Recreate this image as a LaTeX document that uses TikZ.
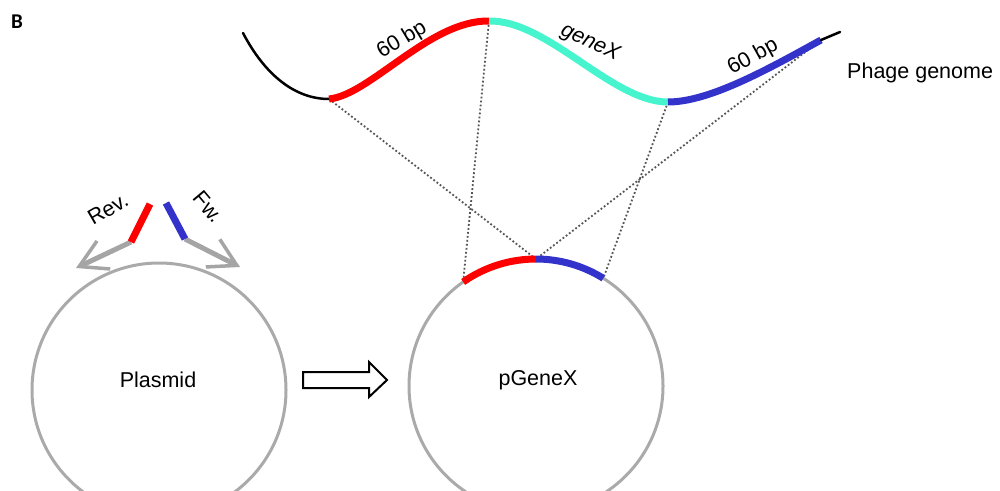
\documentclass[tikz,border=0pt]{standalone}
\usepackage{fontspec}
\setmainfont{Liberation Sans}
\newfontfamily\panelfont{Carlito}
\usetikzlibrary{arrows.meta}
\definecolor{homred}{RGB}{255,0,0}
\definecolor{genecyan}{RGB}{70,245,205}
\definecolor{homblue}{RGB}{51,51,204}
\definecolor{ringgray}{RGB}{170,170,170}
\definecolor{armgray}{RGB}{165,165,165}
\definecolor{linkgray}{RGB}{85,85,85}
\begin{document}
\begin{tikzpicture}[x=1pt,y=-1pt,
  ring/.style={draw=ringgray, line width=3pt},
  genome/.style={line width=2.5pt},
  segment/.style={line width=7pt},
  link/.style={draw=linkgray, line width=1.8pt, dash pattern=on 1.8pt off 2.2pt},
  primer/.style={line width=7pt},
  primerarm/.style={draw=armgray, line width=5pt,
    -{Straight Barb[length=27pt,width=31pt,line width=3.5pt]}},
  lbl/.style={font=\fontsize{21.5}{24}\selectfont, inner sep=0pt}]
\useasboundingbox (0,0) rectangle (1000,490);
\clip (0,0) rectangle (1000,490);

% panel letter
\node[inner sep=0pt, font=\panelfont\bfseries\fontsize{21}{24}\selectfont] (panel) at (17,22) {B};

% points along the phage genome
\coordinate (g0) at (243,33);
\coordinate (g1) at (329,99);
\coordinate (g2) at (489,21);
\coordinate (g3) at (668,102);
\coordinate (g4) at (821,40);
\coordinate (g5) at (840,32);

% plasmid centres and insert points on pGeneX
\coordinate (pc) at (159,390);
\coordinate (gc) at (536,386);
\path (gc) ++(125:127pt) coordinate (insL);
\path (gc) ++(90:127pt) coordinate (insM);
\path (gc) ++(58:127pt) coordinate (insR);

% homology links
\draw[link] (g1) -- (insM);
\draw[link] (g2) -- (insL);
\draw[link] (g3) -- (insR);
\draw[link] (g4) -- (insM);

% phage genome
\draw[genome, line cap=round] (g0) .. controls (265,75) and (295,99) .. (g1);
\draw[segment, homred] (g1) .. controls (370,95) and (430,20) .. (g2);
\draw[segment, genecyan] (g2) .. controls (548,20) and (612,102) .. (g3);
\draw[segment, homblue] (g3) .. controls (710,102) and (770,68) .. (g4);
\draw[genome, line cap=round] (g4) -- (g5);

\node[lbl, rotate=31] (lblL) at (402,40) {60 bp};
\node[lbl, rotate=-25, font=\fontsize{21.5}{24}\selectfont\itshape] (lblG) at (590,43) {geneX};
\node[lbl, rotate=29] (lblR) at (753,57) {60 bp};
\node[lbl, anchor=west] (phage) at (847,73) {Phage genome};

% plasmids
\draw[ring] (pc) circle[radius=127pt];
\node[lbl] (plasmid) at (158,380) {Plasmid};
\draw[ring] (gc) circle[radius=127pt];
\node[lbl] (pgenex) at (538,380) {pGeneX};
\draw[segment, homred] (insL) arc[start angle=125, end angle=90, radius=127pt];
\draw[segment, homblue] (insM) arc[start angle=90, end angle=58, radius=127pt];

% primers
\coordinate (revT) at (150,204);
\coordinate (revB) at (131,242);
\coordinate (fwT) at (166,203);
\coordinate (fwB) at (185,239);
\coordinate (revTip) at (76,268);
\coordinate (fwTip) at (240,267);
\draw[primerarm] (revB) -- (revTip);
\draw[primerarm] (fwB) -- (fwTip);
\draw[primer, homred] (revT) -- (revB);
\draw[primer, homblue] (fwT) -- (fwB);
\node[lbl, rotate=30] (rev) at (108,209) {Rev.};
\node[lbl, rotate=-50] (fw) at (208,207) {Fw.};

% cloning arrow
\draw[line width=2pt, line join=miter] (303,372) -- (369,372) -- (369,362) -- (387,380)
  -- (369,397) -- (369,388) -- (303,388) -- cycle;
\end{tikzpicture}
\end{document}
